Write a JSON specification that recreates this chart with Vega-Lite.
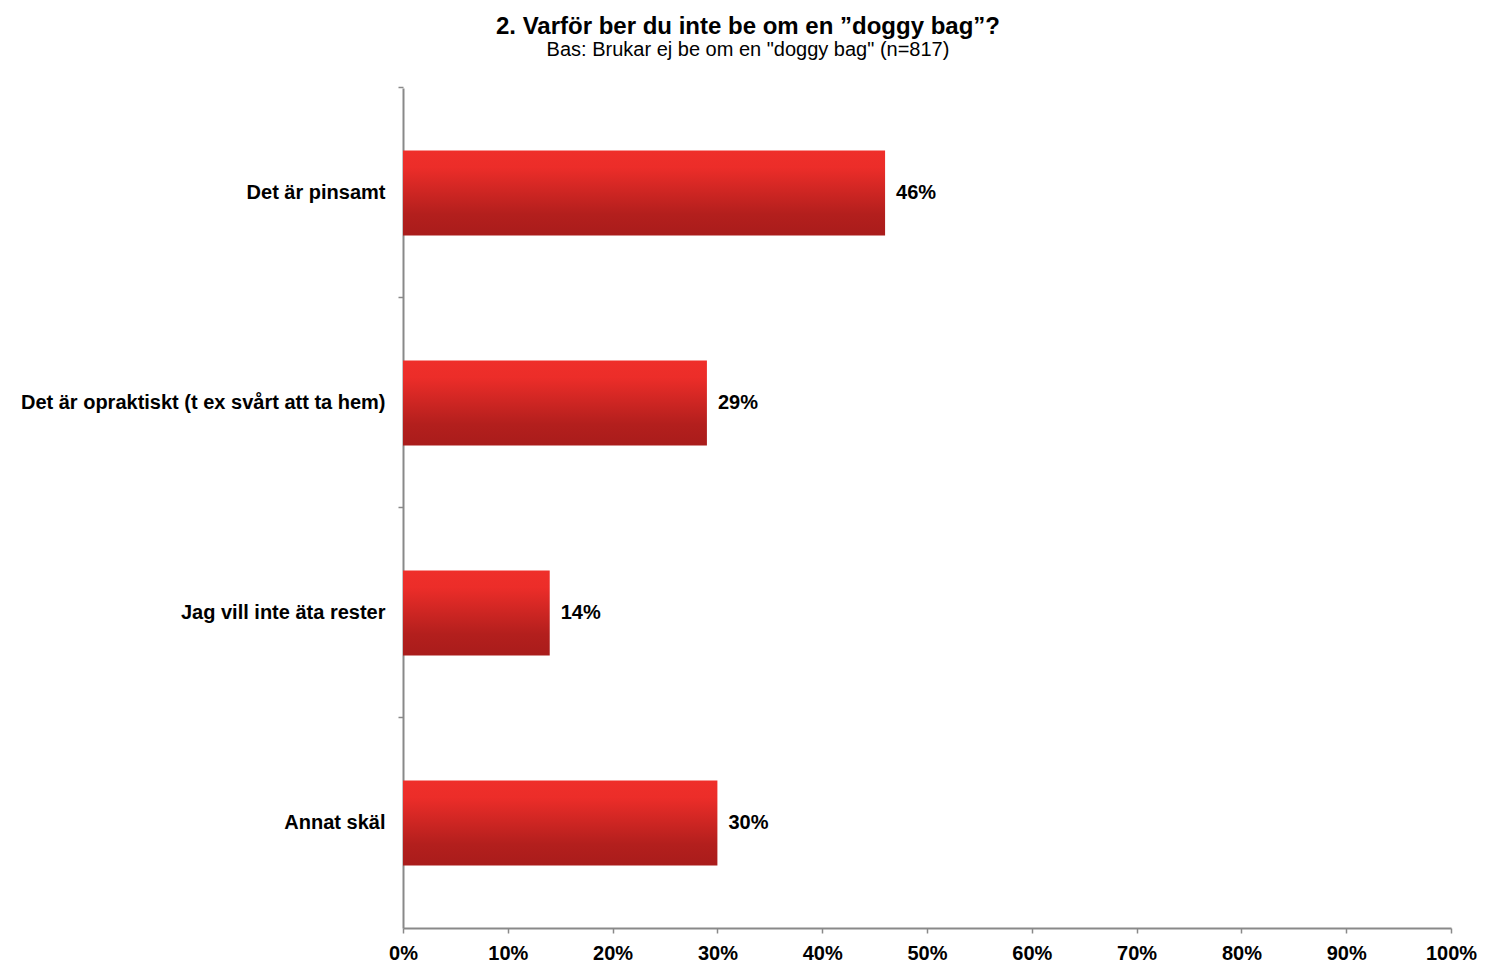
{
  "$schema": "https://vega.github.io/schema/vega-lite/v6.json",
  "width": 1048,
  "height": 840,
  "autosize": {"type": "none"},
  "padding": {"left": 403, "top": 88, "right": 44, "bottom": 35},
  "background": "white",
  "title": {
    "text": "2. Varför ber du inte be om en ”doggy bag”?",
    "subtitle": "Bas: Brukar ej be om en \"doggy bag\" (n=817)",
    "anchor": "middle",
    "frame": "group",
    "dx": -179,
    "offset": 26,
    "font": "Liberation Sans",
    "fontSize": 24,
    "fontWeight": "bold",
    "color": "#000000",
    "subtitleFont": "Liberation Sans",
    "subtitleFontSize": 20,
    "subtitleColor": "#000000",
    "subtitlePadding": 1
  },
  "data": {
    "values": [
      {"kategori": "Det är pinsamt", "andel": 0.46, "etikett": "46%"},
      {"kategori": "Det är opraktiskt (t ex svårt att ta hem)", "andel": 0.29, "etikett": "29%"},
      {"kategori": "Jag vill inte äta rester", "andel": 0.14, "etikett": "14%"},
      {"kategori": "Annat skäl", "andel": 0.30, "etikett": "30%"}
    ]
  },
  "config": {
    "view": {"stroke": null},
    "font": "Liberation Sans"
  },
  "encoding": {
    "y": {
      "field": "kategori",
      "type": "nominal",
      "sort": null,
      "title": null,
      "scale": {"paddingInner": 0.595, "paddingOuter": 0.2975},
      "axis": {
        "bandPosition": -0.735,
        "domainColor": "#898989",
        "domainWidth": 2,
        "tickColor": "#898989",
        "tickWidth": 1.5,
        "tickSize": 5,
        "labelPadding": 13,
        "labelFont": "Liberation Sans",
        "labelFontSize": 20,
        "labelFontWeight": "bold",
        "labelColor": "#000000",
        "labelLimit": 500,
        "grid": false
      }
    }
  },
  "layer": [
    {
      "mark": {
        "type": "bar",
        "color": {
          "gradient": "linear",
          "x1": 0, "y1": 0, "x2": 0, "y2": 1,
          "stops": [
            {"offset": 0, "color": "#ef2f2a"},
            {"offset": 0.2, "color": "#ec2d29"},
            {"offset": 0.75, "color": "#b31f1d"},
            {"offset": 1, "color": "#a91c1b"}
          ]
        }
      },
      "encoding": {
        "x": {
          "field": "andel",
          "type": "quantitative",
          "title": null,
          "scale": {"domain": [0, 1], "nice": false},
          "axis": {
            "format": ".0%",
            "values": [0, 0.1, 0.2, 0.3, 0.4, 0.5, 0.6, 0.7, 0.8, 0.9, 1],
            "domainColor": "#898989",
            "domainWidth": 2,
            "tickColor": "#898989",
            "tickWidth": 1.5,
            "tickSize": 5,
            "labelPadding": 10,
            "labelFont": "Liberation Sans",
            "labelFontSize": 20,
            "labelFontWeight": "bold",
            "labelColor": "#000000",
            "labelFlush": false,
            "grid": false
          }
        }
      }
    },
    {
      "mark": {
        "type": "text",
        "align": "left",
        "baseline": "middle",
        "dx": 11,
        "font": "Liberation Sans",
        "fontSize": 20,
        "fontWeight": "bold",
        "color": "#000000"
      },
      "encoding": {
        "x": {"field": "andel", "type": "quantitative"},
        "text": {"field": "etikett"}
      }
    }
  ]
}
